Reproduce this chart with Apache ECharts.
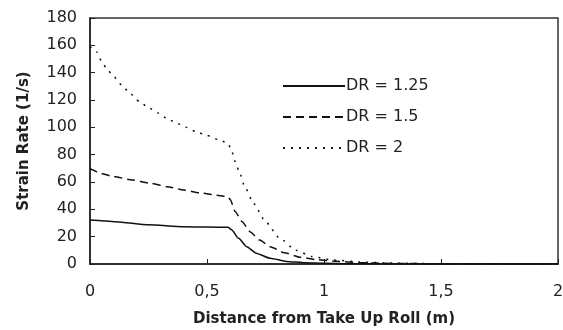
<!DOCTYPE html>
<html>
<head>
<meta charset="utf-8">
<script src="https://cdn.jsdelivr.net/npm/echarts@6/dist/echarts.min.js"></script>
<style>html,body{margin:0;padding:0;background:#fff}#c{width:563px;height:330px}</style>
</head>
<body>
<div id="c"></div>
<script>
var seriesNames = ['DR = 1.25', 'DR = 1.5', 'DR = 2'];
var xDR125 = [0, 0.02, 0.11, 0.25, 0.4, 0.5, 0.59, 0.605, 0.635, 0.67, 0.71, 0.77, 0.84, 0.92, 1.0, 1.1, 1.25, 2.0];
var yDR125 = [32.2, 32, 31, 28.7, 27.3, 27, 26.8, 25, 18.8, 12.7, 7.9, 4.2, 1.9, 0.9, 0.5, 0.2, 0, 0];
var xDR15 = [0, 0.01, 0.04, 0.1, 0.18, 0.26, 0.33, 0.4, 0.47, 0.54, 0.59, 0.6, 0.62, 0.65, 0.685, 0.725, 0.77, 0.83, 0.9, 0.97, 1.05, 1.15, 1.3, 2.0];
var yDR15 = [70, 69, 66.5, 64, 61.5, 59, 56.5, 54.2, 52, 50.3, 49.2, 47, 38.5, 31, 23.5, 17.5, 12.7, 8.3, 4.9, 3.2, 2, 1, 0.3, 0];
var xDR2 = [0, 0.03, 0.05, 0.075, 0.1, 0.135, 0.17, 0.21, 0.25, 0.29, 0.33, 0.37, 0.41, 0.45, 0.5, 0.55, 0.59, 0.605, 0.62, 0.64, 0.66, 0.7, 0.75, 0.81, 0.88, 0.95, 1.04, 1.15, 1.3, 1.5, 2.0];
var yDR2 = [159, 155, 148, 142, 137.5, 131, 125, 119, 114.5, 110.5, 106.5, 103, 100, 97, 94, 91, 88.3, 83, 75, 66.5, 57, 44, 31, 19, 10, 5.4, 2.9, 1.5, 0.6, 0.2, 0];
var xTicks = [0, 0.5, 1, 1.5, 2];
var yTicks = [0, 20, 40, 60, 80, 100, 120, 140, 160, 180];

function pairs(xs, ys) { return xs.map(function (x, i) { return [x, ys[i]]; }); }

var chart = echarts.init(document.getElementById('c'));
var font = 'DejaVu Sans, sans-serif';
chart.setOption({
  animation: false,
  backgroundColor: '#fff',
  grid: { left: 90, right: 5, top: 18, bottom: 66, outerBoundsMode: 'none', containLabel: false, show: true, borderColor: '#333', borderWidth: 1.5, backgroundColor: 'transparent' },
  legend: {
    orient: 'vertical', left: 277, top: 73, itemWidth: 62, itemHeight: 10, itemGap: 15,
    data: seriesNames,
    itemStyle: { color: 'transparent', borderWidth: 0 },
    textStyle: { fontFamily: font, fontSize: 16, color: '#222', padding: [0, 0, 0, -4] }
  },
  xAxis: {
    type: 'value', min: xTicks[0], max: xTicks[xTicks.length - 1], interval: 0.5,
    name: 'Distance from Take Up Roll (m)', nameLocation: 'middle', nameGap: 48,
    nameTextStyle: { fontFamily: font, fontSize: 15, fontWeight: 'bold', color: '#222' },
    axisLine: { lineStyle: { color: '#222', width: 1.5 } },
    axisTick: { inside: true, length: 5, lineStyle: { color: '#222' } },
    axisLabel: { fontFamily: font, fontSize: 16, color: '#222', margin: 20,
      formatter: function (v) { return String(v).replace('.', ','); } },
    splitLine: { show: false }
  },
  yAxis: {
    type: 'value', min: yTicks[0], max: yTicks[yTicks.length - 1], interval: 20,
    name: 'Strain Rate (1/s)', nameLocation: 'middle', nameGap: 58, nameRotate: 90,
    nameTextStyle: { fontFamily: font, fontSize: 15, fontWeight: 'bold', color: '#222' },
    axisLine: { lineStyle: { color: '#222', width: 1.5 } },
    axisTick: { inside: true, length: 5, lineStyle: { color: '#222' } },
    axisLabel: { fontFamily: font, fontSize: 16, color: '#222', margin: 13 },
    splitLine: { show: false }
  },
  series: [
    { name: seriesNames[0], type: 'line', symbol: 'none', smooth: 0.2, smoothMonotone: 'x', data: pairs(xDR125, yDR125),
      lineStyle: { color: '#111', width: 1.5, type: 'solid' }, itemStyle: { color: '#111' } },
    { name: seriesNames[1], type: 'line', symbol: 'none', smooth: 0.2, smoothMonotone: 'x', data: pairs(xDR15, yDR15),
      lineStyle: { color: '#111', width: 1.5, type: [8, 5] }, itemStyle: { color: '#111' } },
    { name: seriesNames[2], type: 'line', symbol: 'none', smooth: 0.2, smoothMonotone: 'x', data: pairs(xDR2, yDR2),
      lineStyle: { color: '#111', width: 1.5, type: [2, 6] }, itemStyle: { color: '#111' } }
  ]
});
</script>
</body>
</html>
